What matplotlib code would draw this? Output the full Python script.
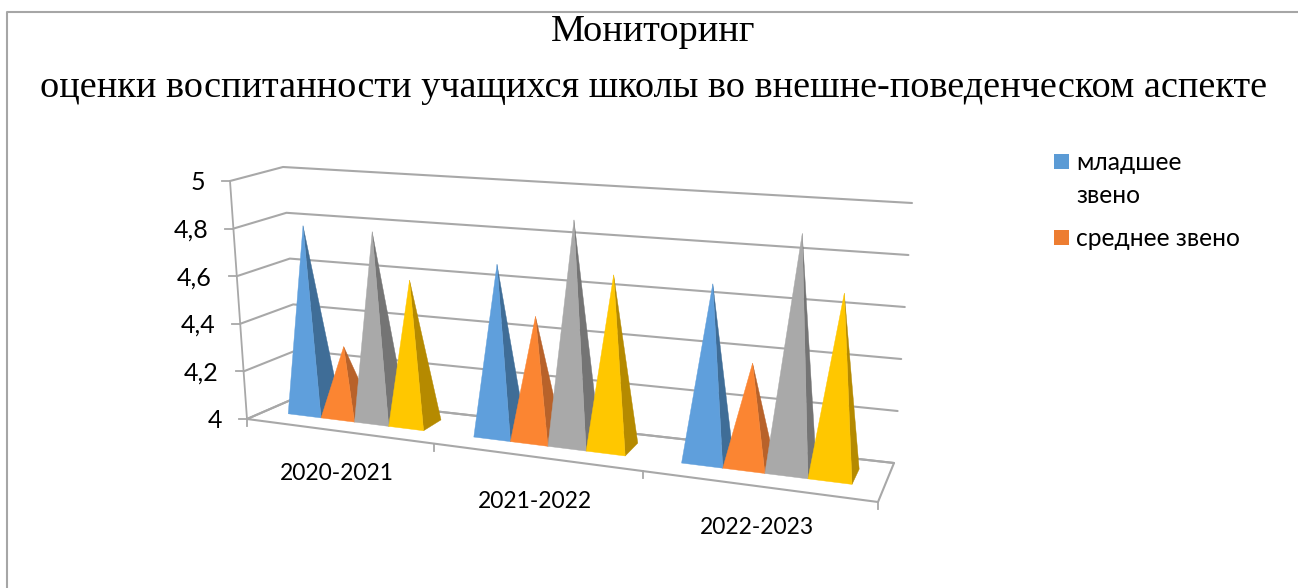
import matplotlib
matplotlib.use("Agg")
import matplotlib.pyplot as plt
from matplotlib.patches import Polygon, Rectangle
import numpy as np

# ---- data ----
title_lines = ["Мониторинг",
               "оценки воспитанности учащихся школы во внешне-поведенческом аспекте"]
categories = ["2020-2021", "2021-2022", "2022-2023"]
y_ticks = [4.0, 4.2, 4.4, 4.6, 4.8, 5.0]
y_tick_labels = ["4", "4,2", "4,4", "4,6", "4,8", "5"]
junior = [4.79, 4.7, 4.7]
middle = [4.29, 4.5, 4.4]
senior = [4.79, 4.91, 4.93]
other = [4.6, 4.7, 4.71]
legend_labels = ["младшее\nзвено", "среднее звено"]

series = [junior, middle, senior, other]
front_colors = ["#5F9FDC", "#FB8532", "#A9A9A9", "#FFC700"]
side_colors = ["#3F6D97", "#B8622A", "#747474", "#B58A00"]
legend_colors = ["#5B9BD5", "#ED7D31"]

W, H = 1298, 588
fig = plt.figure(figsize=(W / 100, H / 100), dpi=100)
ax = fig.add_axes([0, 0, 1, 1])
ax.set_xlim(0, W)
ax.set_ylim(H, 0)
ax.axis("off")

# ---- 3D scene frame: pixel position of the plot box corners ----
FLOOR_FL, FLOOR_BL = np.array([247., 419.]), np.array([300., 396.])
FLOOR_FR, FLOOR_BR = np.array([878., 502.]), np.array([894., 463.])
TOP_FL, TOP_BL = np.array([230., 181.]), np.array([283., 167.])
TOP_FR, TOP_BR = np.array([896., 249.]), np.array([912., 203.])
NCAT = len(categories)
PERSP = 0.189


def proj(x, d, v):
    """category position x (0..3), depth d (0 front..1 back), value v (4..5) to pixels"""
    t = x / (NCAT + PERSP * (NCAT - x))
    floor = (1 - d) * (FLOOR_FL + (FLOOR_FR - FLOOR_FL) * t) + d * (FLOOR_BL + (FLOOR_BR - FLOOR_BL) * t)
    top = (1 - d) * (TOP_FL + (TOP_FR - TOP_FL) * t) + d * (TOP_BL + (TOP_BR - TOP_BL) * t)
    f = (v - y_ticks[0]) / (y_ticks[-1] - y_ticks[0])
    return floor + (top - floor) * f


# outer frame: only the left and top edges are visible
ax.plot([7, 7, W], [H, 12, 12], color="#A6A6A6", lw=1.5)

grid_c = "#A8A8A8"
# gridlines on walls
for v in y_ticks:
    pts = np.array([proj(0, 0, v), proj(0, 1, v), proj(NCAT, 1, v)])
    ax.plot(pts[:, 0], pts[:, 1], color=grid_c, lw=1.5, solid_capstyle="round")
    tick = proj(0, 0, v)
    ax.plot([tick[0] - 8, tick[0]], [tick[1], tick[1]], color=grid_c, lw=1.3)
# vertical axis
pts = np.array([proj(0, 0, y_ticks[0]), proj(0, 0, y_ticks[-1])])
ax.plot(pts[:, 0], pts[:, 1], color=grid_c, lw=1.3)
# floor
pts = np.array([proj(0, 1, 4), proj(0, 0, 4), proj(NCAT, 0, 4), proj(NCAT, 1, 4), proj(0, 1, 4)])
ax.plot(pts[:, 0], pts[:, 1], color=grid_c, lw=1.5)
# category ticks
for i in range(NCAT + 1):
    p = proj(i, 0, 4)
    ax.plot([p[0], p[0]], [p[1], p[1] + 7], color=grid_c, lw=1.3)

# y tick labels
for v, lab in zip(y_ticks, y_tick_labels):
    p = proj(0, 0, v)
    ax.text(p[0] - 25, p[1] + 1.5, lab, ha="right", va="center", fontsize=18, family="Lato", color="black")

# category labels
label_x = [337, 535, 757]
label_y = [474, 501, 528]
for c, lx, ly in zip(categories, label_x, label_y):
    ax.text(lx, ly, c, ha="center", va="center", fontsize=16.5, family="Lato", color="black")

# pyramids
GAP, D0, D1 = 0.13, 0.35, 0.75
bw = (1 - 2 * GAP) / len(series)
for i in range(NCAT):
    for s, vals in enumerate(series):
        x0 = i + GAP + s * bw
        x1 = x0 + bw
        xc = (x0 + x1) / 2
        dc = (D0 + D1) / 2
        apex = proj(xc, dc, vals[i])
        fl, fr = proj(x0, D0, 4), proj(x1, D0, 4)
        br = proj(x1, D1, 4)
        ax.add_patch(Polygon([apex, fr, br], closed=True, fc=side_colors[s], ec=side_colors[s], lw=0.3, zorder=3 + s))
        ax.add_patch(Polygon([apex, fl, fr], closed=True, fc=front_colors[s], ec=front_colors[s], lw=0.3, zorder=3 + s))

# titles
ax.text(653, 32, title_lines[0], ha="center", va="center", fontsize=27.5, family="Liberation Serif", color="black")
ax.text(654, 88, title_lines[1], ha="center", va="center", fontsize=27.5, family="Liberation Serif", color="black")

# legend
leg_y = [161, 237]
for c, lab, ly in zip(legend_colors, legend_labels, leg_y):
    ax.add_patch(Rectangle((1054, ly - 7.5), 15, 15, fc=c, ec="none"))
    ax.text(1076, ly - 10, lab, ha="left", va="top", fontsize=17.7, family="Lato", color="black", linespacing=1.55)

fig.savefig("out.png", dpi=100)
